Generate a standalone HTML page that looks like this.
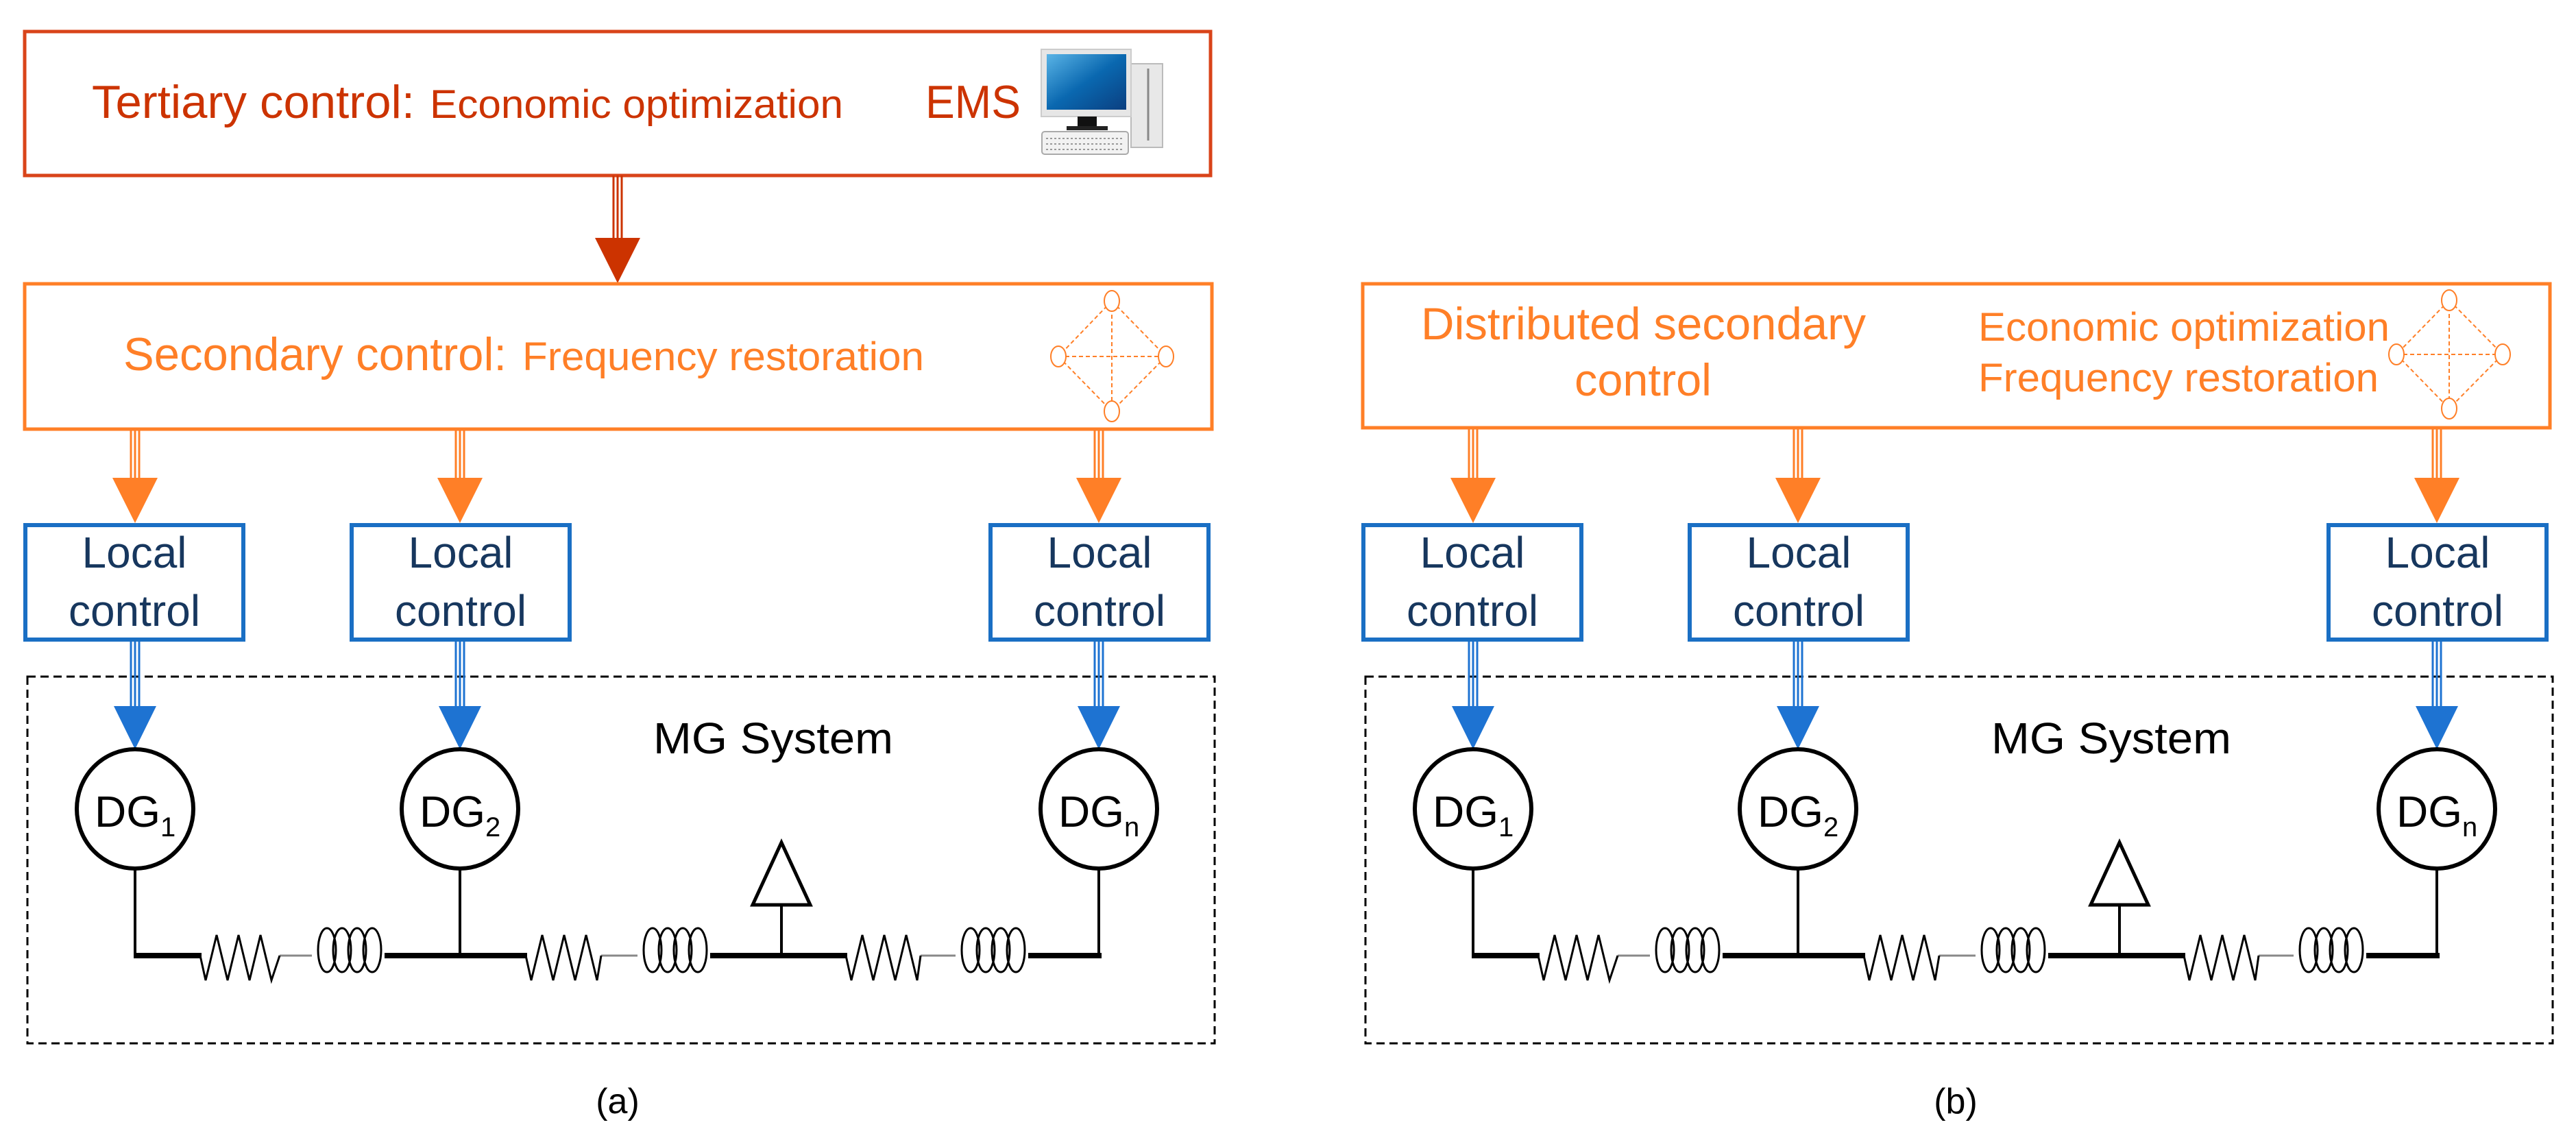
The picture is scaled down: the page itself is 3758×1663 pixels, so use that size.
<!DOCTYPE html>
<html><head><meta charset="utf-8"><style>
html,body{margin:0;padding:0;background:#fff;}
svg{display:block;}
text{font-family:"Liberation Sans",sans-serif;}
</style></head><body>
<svg width="3758" height="1663" viewBox="0 0 3758 1663" xmlns="http://www.w3.org/2000/svg">
<defs>
<linearGradient id="scr" x1="0" y1="0" x2="1" y2="1"><stop offset="0" stop-color="#5ab4e6"/><stop offset="0.5" stop-color="#0a68b0"/><stop offset="1" stop-color="#0b3f80"/></linearGradient>
</defs>

<!-- Tertiary box -->
<rect x="36" y="46" width="1730" height="210" fill="#fff" stroke="#d9441a" stroke-width="5"/>
<text x="134" y="172" font-size="68" fill="#cc3300" textLength="471" lengthAdjust="spacingAndGlyphs">Tertiary control:</text>
<text x="627" y="172" font-size="58" fill="#cc3300" textLength="603" lengthAdjust="spacingAndGlyphs">Economic optimization</text>
<text x="1350" y="172" font-size="68" fill="#cc3300" textLength="139" lengthAdjust="spacingAndGlyphs">EMS</text>
<!-- computer icon -->
<rect x="1650" y="93" width="46" height="122" fill="#e8e8e8" stroke="#bbb" stroke-width="2"/>
<line x1="1675" y1="100" x2="1675" y2="205" stroke="#888" stroke-width="3"/>
<rect x="1519" y="72" width="131" height="98" fill="#e6e6e6" stroke="#ccc" stroke-width="2"/>
<rect x="1527" y="79" width="116" height="81" fill="url(#scr)"/>
<rect x="1572" y="170" width="28" height="16" fill="#111"/>
<rect x="1556" y="184" width="60" height="6" fill="#222"/>
<rect x="1520" y="192" width="126" height="33" rx="4" fill="#f2f2f2" stroke="#aaa" stroke-width="2"/>
<path d="M1526 202 H1640 M1526 210 H1640 M1526 218 H1640" stroke="#999" stroke-width="2" stroke-dasharray="3 3"/>

<!-- tertiary arrow -->
<g stroke="#cc3300" stroke-width="3">
<line x1="895" y1="256" x2="895" y2="352"/><line x1="901" y1="256" x2="901" y2="352"/><line x1="907" y1="256" x2="907" y2="352"/>
</g>
<polygon points="868,347 934,347 901,413" fill="#cc3300"/>

<!-- Panel a secondary -->
<rect x="36" y="414" width="1732" height="212" fill="#fff" stroke="#ff7f27" stroke-width="5"/>
<text x="180" y="540" font-size="68" fill="#ff7f27" textLength="559" lengthAdjust="spacingAndGlyphs">Secondary control:</text>
<text x="762" y="540" font-size="58" fill="#ff7f27" textLength="586" lengthAdjust="spacingAndGlyphs">Frequency restoration</text>
<g fill="none" stroke="#ff7f27" stroke-width="2">
<g stroke-dasharray="6 4">
<line x1="1622" y1="439" x2="1544" y2="520"/><line x1="1622" y1="439" x2="1701" y2="520"/>
<line x1="1544" y1="520" x2="1622" y2="600"/><line x1="1701" y1="520" x2="1622" y2="600"/>
<line x1="1622" y1="439" x2="1622" y2="600"/><line x1="1544" y1="520" x2="1701" y2="520"/>
</g>
<ellipse cx="1622" cy="439" rx="11" ry="15" fill="#fff"/><ellipse cx="1544" cy="520" rx="11" ry="15" fill="#fff"/>
<ellipse cx="1701" cy="520" rx="11" ry="15" fill="#fff"/><ellipse cx="1622" cy="600" rx="11" ry="15" fill="#fff"/>
</g>

<!-- Panel b secondary -->
<rect x="1988" y="414" width="1732" height="210" fill="#fff" stroke="#ff7f27" stroke-width="5"/>
<text x="2073" y="495" font-size="66" fill="#ff7f27" textLength="649" lengthAdjust="spacingAndGlyphs">Distributed secondary</text>
<text x="2297" y="577" font-size="66" fill="#ff7f27" textLength="200" lengthAdjust="spacingAndGlyphs">control</text>
<text x="2886" y="497" font-size="58" fill="#ff7f27" textLength="600" lengthAdjust="spacingAndGlyphs">Economic optimization</text>
<text x="2886" y="571" font-size="58" fill="#ff7f27" textLength="584" lengthAdjust="spacingAndGlyphs">Frequency restoration</text>
<g fill="none" stroke="#ff7f27" stroke-width="2">
<g stroke-dasharray="6 4">
<line x1="3573" y1="438" x2="3496" y2="517"/><line x1="3573" y1="438" x2="3651" y2="517"/>
<line x1="3496" y1="517" x2="3573" y2="596"/><line x1="3651" y1="517" x2="3573" y2="596"/>
<line x1="3573" y1="438" x2="3573" y2="596"/><line x1="3496" y1="517" x2="3651" y2="517"/>
</g>
<ellipse cx="3573" cy="438" rx="11" ry="15" fill="#fff"/><ellipse cx="3496" cy="517" rx="11" ry="15" fill="#fff"/>
<ellipse cx="3651" cy="517" rx="11" ry="15" fill="#fff"/><ellipse cx="3573" cy="596" rx="11" ry="15" fill="#fff"/>
</g>

<!-- Panel a lower -->
<g id="pa">
<g stroke="#ff7f27" stroke-width="3">
<line x1="191" y1="626" x2="191" y2="700"/><line x1="197" y1="626" x2="197" y2="700"/><line x1="203" y1="626" x2="203" y2="700"/>
<line x1="665" y1="626" x2="665" y2="700"/><line x1="671" y1="626" x2="671" y2="700"/><line x1="677" y1="626" x2="677" y2="700"/>
<line x1="1597" y1="626" x2="1597" y2="700"/><line x1="1603" y1="626" x2="1603" y2="700"/><line x1="1609" y1="626" x2="1609" y2="700"/>
</g>
<polygon points="164,697 230,697 197,763" fill="#ff7f27"/>
<polygon points="638,697 704,697 671,763" fill="#ff7f27"/>
<polygon points="1570,697 1636,697 1603,763" fill="#ff7f27"/>

<g fill="#fff" stroke="#1a6fc4" stroke-width="6">
<rect x="37" y="766" width="318" height="167"/>
<rect x="513" y="766" width="318" height="167"/>
<rect x="1445" y="766" width="318" height="167"/>
</g>
<g font-size="64" fill="#17375e" text-anchor="middle">
<text x="196" y="828">Local</text><text x="196" y="913">control</text>
<text x="672" y="828">Local</text><text x="672" y="913">control</text>
<text x="1604" y="828">Local</text><text x="1604" y="913">control</text>
</g>

<rect x="40" y="987" width="1732" height="535" fill="none" stroke="#000" stroke-width="3" stroke-dasharray="12 7"/>

<g stroke="#1e73d2" stroke-width="3">
<line x1="191" y1="936" x2="191" y2="1035"/><line x1="197" y1="936" x2="197" y2="1035"/><line x1="203" y1="936" x2="203" y2="1035"/>
<line x1="665" y1="936" x2="665" y2="1035"/><line x1="671" y1="936" x2="671" y2="1035"/><line x1="677" y1="936" x2="677" y2="1035"/>
<line x1="1597" y1="936" x2="1597" y2="1035"/><line x1="1603" y1="936" x2="1603" y2="1035"/><line x1="1609" y1="936" x2="1609" y2="1035"/>
</g>
<polygon points="166,1030 228,1030 197,1093" fill="#1e73d2"/>
<polygon points="640,1030 702,1030 671,1093" fill="#1e73d2"/>
<polygon points="1572,1030 1634,1030 1603,1093" fill="#1e73d2"/>

<text x="953" y="1099" font-size="64" fill="#000" textLength="350" lengthAdjust="spacingAndGlyphs">MG System</text>

<g fill="#fff" stroke="#000" stroke-width="6">
<ellipse cx="197" cy="1180" rx="85" ry="87"/>
<ellipse cx="671" cy="1180" rx="85" ry="87"/>
<ellipse cx="1603" cy="1180" rx="85" ry="87"/>
</g>
<g font-size="64" fill="#000">
<text x="138" y="1206">DG<tspan font-size="40" dy="14">1</tspan></text>
<text x="612" y="1206">DG<tspan font-size="40" dy="14">2</tspan></text>
<text x="1544" y="1206">DG<tspan font-size="40" dy="14">n</tspan></text>
</g>

<g stroke="#000" stroke-width="4" fill="none">
<line x1="197" y1="1267" x2="197" y2="1394"/>
<line x1="671" y1="1267" x2="671" y2="1394"/>
<line x1="1603" y1="1267" x2="1603" y2="1394"/>
<line x1="1140" y1="1320" x2="1140" y2="1394"/>
<polygon points="1140,1229 1098,1320 1182,1320" stroke-width="5"/>
</g>
<g stroke="#000" stroke-width="8">
<line x1="195" y1="1394" x2="294" y2="1394"/>
<line x1="561" y1="1394" x2="769" y2="1394"/>
<line x1="1036" y1="1394" x2="1236" y2="1394"/>
<line x1="1500" y1="1394" x2="1607" y2="1394"/>
</g>
<g stroke="#888" stroke-width="3">
<line x1="408" y1="1394" x2="455" y2="1394"/>
<line x1="877" y1="1394" x2="930" y2="1394"/>
<line x1="1343" y1="1394" x2="1394" y2="1394"/>
</g>
<g stroke="#000" stroke-width="3" fill="none">
<polyline points="292,1394 300,1430 316,1364 332,1430 348,1364 364,1430 380,1364 396,1430 408,1394"/>
<polyline points="767,1394 775,1430 791,1364 807,1430 823,1364 839,1430 855,1364 871,1430 877,1394"/>
<polyline points="1234,1394 1242,1430 1258,1364 1274,1430 1290,1364 1306,1430 1322,1364 1338,1430 1343,1394"/>
<g>
<ellipse cx="477" cy="1386" rx="13" ry="32"/><ellipse cx="499" cy="1386" rx="13" ry="32"/><ellipse cx="521" cy="1386" rx="13" ry="32"/><ellipse cx="543" cy="1386" rx="13" ry="32"/>
<ellipse cx="952" cy="1386" rx="13" ry="32"/><ellipse cx="974" cy="1386" rx="13" ry="32"/><ellipse cx="996" cy="1386" rx="13" ry="32"/><ellipse cx="1018" cy="1386" rx="13" ry="32"/>
<ellipse cx="1416" cy="1386" rx="13" ry="32"/><ellipse cx="1438" cy="1386" rx="13" ry="32"/><ellipse cx="1460" cy="1386" rx="13" ry="32"/><ellipse cx="1482" cy="1386" rx="13" ry="32"/>
</g>
</g>
<text x="901" y="1624" font-size="52" fill="#000" text-anchor="middle">(a)</text>
</g>

<!-- Panel b lower (same layout shifted) -->
<g transform="translate(1952,0)">
<g stroke="#ff7f27" stroke-width="3">
<line x1="191" y1="624" x2="191" y2="700"/><line x1="197" y1="624" x2="197" y2="700"/><line x1="203" y1="624" x2="203" y2="700"/>
<line x1="665" y1="624" x2="665" y2="700"/><line x1="671" y1="624" x2="671" y2="700"/><line x1="677" y1="624" x2="677" y2="700"/>
<line x1="1597" y1="624" x2="1597" y2="700"/><line x1="1603" y1="624" x2="1603" y2="700"/><line x1="1609" y1="624" x2="1609" y2="700"/>
</g>
<polygon points="164,697 230,697 197,763" fill="#ff7f27"/>
<polygon points="638,697 704,697 671,763" fill="#ff7f27"/>
<polygon points="1570,697 1636,697 1603,763" fill="#ff7f27"/>

<g fill="#fff" stroke="#1a6fc4" stroke-width="6">
<rect x="37" y="766" width="318" height="167"/>
<rect x="513" y="766" width="318" height="167"/>
<rect x="1445" y="766" width="318" height="167"/>
</g>
<g font-size="64" fill="#17375e" text-anchor="middle">
<text x="196" y="828">Local</text><text x="196" y="913">control</text>
<text x="672" y="828">Local</text><text x="672" y="913">control</text>
<text x="1604" y="828">Local</text><text x="1604" y="913">control</text>
</g>

<rect x="40" y="987" width="1732" height="535" fill="none" stroke="#000" stroke-width="3" stroke-dasharray="12 7"/>

<g stroke="#1e73d2" stroke-width="3">
<line x1="191" y1="936" x2="191" y2="1035"/><line x1="197" y1="936" x2="197" y2="1035"/><line x1="203" y1="936" x2="203" y2="1035"/>
<line x1="665" y1="936" x2="665" y2="1035"/><line x1="671" y1="936" x2="671" y2="1035"/><line x1="677" y1="936" x2="677" y2="1035"/>
<line x1="1597" y1="936" x2="1597" y2="1035"/><line x1="1603" y1="936" x2="1603" y2="1035"/><line x1="1609" y1="936" x2="1609" y2="1035"/>
</g>
<polygon points="166,1030 228,1030 197,1093" fill="#1e73d2"/>
<polygon points="640,1030 702,1030 671,1093" fill="#1e73d2"/>
<polygon points="1572,1030 1634,1030 1603,1093" fill="#1e73d2"/>

<text x="953" y="1099" font-size="64" fill="#000" textLength="350" lengthAdjust="spacingAndGlyphs">MG System</text>

<g fill="#fff" stroke="#000" stroke-width="6">
<ellipse cx="197" cy="1180" rx="85" ry="87"/>
<ellipse cx="671" cy="1180" rx="85" ry="87"/>
<ellipse cx="1603" cy="1180" rx="85" ry="87"/>
</g>
<g font-size="64" fill="#000">
<text x="138" y="1206">DG<tspan font-size="40" dy="14">1</tspan></text>
<text x="612" y="1206">DG<tspan font-size="40" dy="14">2</tspan></text>
<text x="1544" y="1206">DG<tspan font-size="40" dy="14">n</tspan></text>
</g>

<g stroke="#000" stroke-width="4" fill="none">
<line x1="197" y1="1267" x2="197" y2="1394"/>
<line x1="671" y1="1267" x2="671" y2="1394"/>
<line x1="1603" y1="1267" x2="1603" y2="1394"/>
<line x1="1140" y1="1320" x2="1140" y2="1394"/>
<polygon points="1140,1229 1098,1320 1182,1320" stroke-width="5"/>
</g>
<g stroke="#000" stroke-width="8">
<line x1="195" y1="1394" x2="294" y2="1394"/>
<line x1="561" y1="1394" x2="769" y2="1394"/>
<line x1="1036" y1="1394" x2="1236" y2="1394"/>
<line x1="1500" y1="1394" x2="1607" y2="1394"/>
</g>
<g stroke="#888" stroke-width="3">
<line x1="408" y1="1394" x2="455" y2="1394"/>
<line x1="877" y1="1394" x2="930" y2="1394"/>
<line x1="1343" y1="1394" x2="1394" y2="1394"/>
</g>
<g stroke="#000" stroke-width="3" fill="none">
<polyline points="292,1394 300,1430 316,1364 332,1430 348,1364 364,1430 380,1364 396,1430 408,1394"/>
<polyline points="767,1394 775,1430 791,1364 807,1430 823,1364 839,1430 855,1364 871,1430 877,1394"/>
<polyline points="1234,1394 1242,1430 1258,1364 1274,1430 1290,1364 1306,1430 1322,1364 1338,1430 1343,1394"/>
<g>
<ellipse cx="477" cy="1386" rx="13" ry="32"/><ellipse cx="499" cy="1386" rx="13" ry="32"/><ellipse cx="521" cy="1386" rx="13" ry="32"/><ellipse cx="543" cy="1386" rx="13" ry="32"/>
<ellipse cx="952" cy="1386" rx="13" ry="32"/><ellipse cx="974" cy="1386" rx="13" ry="32"/><ellipse cx="996" cy="1386" rx="13" ry="32"/><ellipse cx="1018" cy="1386" rx="13" ry="32"/>
<ellipse cx="1416" cy="1386" rx="13" ry="32"/><ellipse cx="1438" cy="1386" rx="13" ry="32"/><ellipse cx="1460" cy="1386" rx="13" ry="32"/><ellipse cx="1482" cy="1386" rx="13" ry="32"/>
</g>
</g>
<text x="901" y="1624" font-size="52" fill="#000" text-anchor="middle">(b)</text>
</g>
</svg>
</body></html>
